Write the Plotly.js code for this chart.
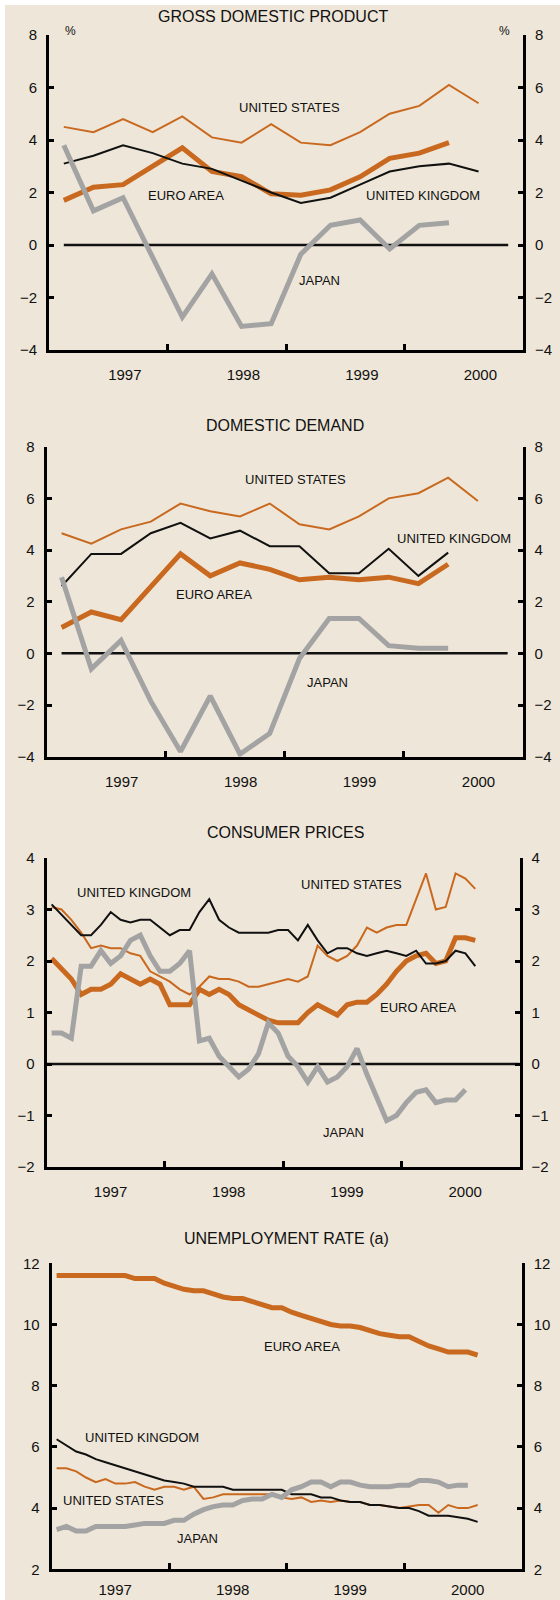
<!DOCTYPE html>
<html><head><meta charset="utf-8">
<script src="https://cdn.plot.ly/plotly-3.0.1.min.js"></script>
<style>html,body{margin:0;padding:0;background:#fff;}#chart{width:560px;height:1600px;}</style>
</head><body><div id="chart"></div>
<script>
// ---- categories ----
const quarters = ['1997Q1','1997Q2','1997Q3','1997Q4','1998Q1','1998Q2','1998Q3','1998Q4',
                  '1999Q1','1999Q2','1999Q3','1999Q4','2000Q1','2000Q2','2000Q3','2000Q4'];
const months = [];
[1997,1998,1999,2000].forEach(y => { for (let m = 1; m <= 12; m++) months.push(y + '-' + String(m).padStart(2,'0')); });
const yearLabels = ['1997','1998','1999','2000'];
const yearBoundaries = [1998, 1999, 2000];

// ---- GDP (quarterly, % yoy) ----
const gdpUS    = [4.5, 4.3, 4.8, 4.3, 4.9, 4.1, 3.9, 4.6, 3.9, 3.8, 4.3, 5.0, 5.3, 6.1, 5.4];
const gdpEuro  = [1.7, 2.2, 2.3, 3.0, 3.7, 2.8, 2.6, 1.95, 1.9, 2.1, 2.6, 3.3, 3.5, 3.9];
const gdpUK    = [3.1, 3.4, 3.8, 3.5, 3.1, 2.9, 2.45, 2.0, 1.6, 1.8, 2.3, 2.8, 3.0, 3.1, 2.8];
const gdpJapan = [3.8, 1.3, 1.8, -0.5, -2.75, -1.1, -3.1, -3.0, -0.35, 0.75, 0.95, -0.15, 0.75, 0.85];

// ---- Domestic demand (quarterly) ----
const ddUS    = [4.65, 4.25, 4.8, 5.1, 5.8, 5.5, 5.3, 5.8, 5.0, 4.8, 5.3, 6.0, 6.2, 6.8, 5.9];
const ddUK    = [2.6, 3.85, 3.85, 4.65, 5.05, 4.45, 4.75, 4.15, 4.15, 3.1, 3.1, 4.05, 3.0, 3.9];
const ddEuro  = [1.0, 1.6, 1.3, 2.6, 3.85, 3.0, 3.5, 3.25, 2.85, 2.95, 2.85, 2.95, 2.7, 3.45];
const ddJapan = [2.95, -0.6, 0.5, -1.85, -3.8, -1.65, -3.9, -3.1, -0.2, 1.35, 1.35, 0.3, 0.2, 0.2];

// ---- Consumer prices (monthly) ----
const cpiUK = [3.1, 2.9, 2.7, 2.5, 2.5, 2.7, 2.95, 2.8, 2.75, 2.8, 2.8, 2.65, 2.5, 2.6, 2.6, 2.95, 3.2, 2.8, 2.65, 2.55,
               2.55, 2.55, 2.55, 2.6, 2.6, 2.4, 2.7, 2.4, 2.15, 2.25, 2.25, 2.15, 2.1, 2.15, 2.2, 2.15, 2.1, 2.2, 1.95, 1.95,
               2.0, 2.2, 2.15, 1.9];
const cpiUS = [3.05, 3.0, 2.8, 2.55, 2.25, 2.3, 2.25, 2.25, 2.15, 2.1, 1.8, 1.7, 1.6, 1.45, 1.35, 1.5, 1.7, 1.65, 1.65, 1.6,
               1.5, 1.5, 1.55, 1.6, 1.65, 1.6, 1.7, 2.3, 2.1, 2.0, 2.1, 2.3, 2.65, 2.55, 2.65, 2.7, 2.7, 3.2, 3.7, 3.0,
               3.05, 3.7, 3.6, 3.4];
const cpiEuro = [2.05, 1.85, 1.65, 1.35, 1.45, 1.45, 1.55, 1.75, 1.65, 1.55, 1.65, 1.55, 1.15, 1.15, 1.15, 1.45, 1.35, 1.45, 1.35, 1.15,
                 1.05, 0.95, 0.85, 0.8, 0.8, 0.8, 1.0, 1.15, 1.05, 0.95, 1.15, 1.2, 1.2, 1.35, 1.55, 1.8, 2.0, 2.1, 2.15, 1.95,
                 2.0, 2.45, 2.45, 2.4];
const cpiJapan = [0.6, 0.6, 0.5, 1.9, 1.9, 2.2, 1.95, 2.1, 2.4, 2.5, 2.1, 1.8, 1.8, 1.95, 2.2, 0.45, 0.5, 0.15, -0.05, -0.25,
                  -0.1, 0.2, 0.8, 0.6, 0.15, -0.05, -0.35, -0.05, -0.35, -0.25, -0.05, 0.3, -0.2, -0.65, -1.1, -1.0, -0.75, -0.55, -0.5, -0.75,
                  -0.7, -0.7, -0.5];

// ---- Unemployment rate (monthly) ----
const unEuro = [11.6, 11.6, 11.6, 11.6, 11.6, 11.6, 11.6, 11.6, 11.5, 11.5, 11.5, 11.35, 11.25, 11.15, 11.1, 11.1, 11.0, 10.9, 10.85, 10.85,
                10.75, 10.65, 10.55, 10.55, 10.4, 10.3, 10.2, 10.1, 10.0, 9.95, 9.95, 9.9, 9.8, 9.7, 9.65, 9.6, 9.6, 9.45, 9.3, 9.2,
                9.1, 9.1, 9.1, 9.0];
const unUK = [6.25, 6.05, 5.85, 5.75, 5.6, 5.5, 5.4, 5.3, 5.2, 5.1, 5.0, 4.9, 4.85, 4.8, 4.7, 4.7, 4.7, 4.7, 4.6, 4.6,
              4.6, 4.6, 4.6, 4.6, 4.45, 4.45, 4.45, 4.35, 4.35, 4.25, 4.2, 4.2, 4.1, 4.1, 4.05, 4.0, 4.0, 3.9, 3.75, 3.75,
              3.75, 3.7, 3.65, 3.55];
const unUS = [5.3, 5.3, 5.2, 5.0, 4.85, 4.95, 4.8, 4.8, 4.85, 4.7, 4.6, 4.7, 4.7, 4.6, 4.7, 4.3, 4.35, 4.45, 4.45, 4.45,
              4.45, 4.45, 4.45, 4.35, 4.3, 4.35, 4.2, 4.25, 4.2, 4.25, 4.2, 4.2, 4.1, 4.1, 4.05, 4.0, 4.05, 4.1, 4.1, 3.85,
              4.1, 4.0, 4.0, 4.1];
const unJapan = [3.3, 3.4, 3.25, 3.25, 3.4, 3.4, 3.4, 3.4, 3.45, 3.5, 3.5, 3.5, 3.6, 3.6, 3.8, 3.95, 4.05, 4.1, 4.1, 4.25,
                 4.3, 4.3, 4.45, 4.35, 4.6, 4.7, 4.85, 4.85, 4.7, 4.85, 4.85, 4.75, 4.7, 4.7, 4.7, 4.75, 4.75, 4.9, 4.9, 4.85,
                 4.7, 4.75, 4.75];

// ---- helpers: period label -> position on a continuous year axis ----
const qx = q => +q.slice(0,4) + (+q.slice(5) - 0.5) / 4;
const mx = m => +m.slice(0,4) + (+m.slice(5) - 0.5) / 12;
const qX = n => quarters.slice(0, n).map(qx);
const mX = n => months.slice(0, n).map(mx);

const ORANGE = '#C8691F', GREY = '#A3A3A3', BLACK = '#111111', BEIGE = '#EEE6D8';
const FONT = 'Liberation Sans, Arial, sans-serif';

function line(x, y, color, width, xa, ya) {
  return {x, y, type: 'scatter', mode: 'lines', xaxis: xa, yaxis: ya, hoverinfo: 'skip',
          line: {color, width, shape: 'linear'}, showlegend: false};
}
// transparent companion trace so that the right-hand axis of a panel is created
function ghost(x, y, xa, ya) {
  return {x, y, type: 'scatter', mode: 'lines', xaxis: xa, yaxis: ya, hoverinfo: 'skip',
          opacity: 0, line: {width: 0}, showlegend: false};
}

const traces = [];
// Panel 1
traces.push(line([qx(quarters[0]), qx(quarters[15])], [0, 0], BLACK, 2.5, 'x', 'y'));
traces.push(line(qX(gdpEuro.length), gdpEuro, ORANGE, 5, 'x', 'y'));
traces.push(line(qX(gdpUS.length), gdpUS, ORANGE, 2, 'x', 'y'));
traces.push(line(qX(gdpUK.length), gdpUK, BLACK, 2, 'x', 'y'));
traces.push(line(qX(gdpJapan.length), gdpJapan, GREY, 5, 'x', 'y'));
traces.push(ghost(qX(gdpUS.length), gdpUS, 'x', 'y5'));
// Panel 2
traces.push(line([qx(quarters[0]), qx(quarters[15])], [0, 0], BLACK, 2.5, 'x2', 'y2'));
traces.push(line(qX(ddEuro.length), ddEuro, ORANGE, 5, 'x2', 'y2'));
traces.push(line(qX(ddUS.length), ddUS, ORANGE, 2, 'x2', 'y2'));
traces.push(line(qX(ddUK.length), ddUK, BLACK, 2, 'x2', 'y2'));
traces.push(line(qX(ddJapan.length), ddJapan, GREY, 5, 'x2', 'y2'));
traces.push(ghost(qX(ddUS.length), ddUS, 'x2', 'y6'));
// Panel 3
traces.push(line([1997, 2001], [0, 0], BLACK, 2.5, 'x3', 'y3'));
traces.push(line(mX(cpiEuro.length), cpiEuro, ORANGE, 5, 'x3', 'y3'));
traces.push(line(mX(cpiUS.length), cpiUS, ORANGE, 2, 'x3', 'y3'));
traces.push(line(mX(cpiUK.length), cpiUK, BLACK, 2, 'x3', 'y3'));
traces.push(line(mX(cpiJapan.length), cpiJapan, GREY, 5, 'x3', 'y3'));
traces.push(ghost(mX(cpiUS.length), cpiUS, 'x3', 'y7'));
// Panel 4
traces.push(line(mX(unEuro.length), unEuro, ORANGE, 5, 'x4', 'y4'));
traces.push(line(mX(unUS.length), unUS, ORANGE, 2, 'x4', 'y4'));
traces.push(line(mX(unUK.length), unUK, BLACK, 2, 'x4', 'y4'));
traces.push(line(mX(unJapan.length), unJapan, GREY, 5, 'x4', 'y4'));
traces.push(ghost(mX(unUS.length), unUS, 'x4', 'y8'));

// ---- layout ----
const W = 560, H = 1600;
const px = v => v / W, py = v => 1 - v / H;

function xAxis(l, r, labelOffset, anchor, standoff) {
  return {
    domain: [px(l), px(r)], range: [1997, 2001], anchor,
    showgrid: false, zeroline: false, showline: true, linecolor: '#000', linewidth: 3,
    tickmode: 'array', tickvals: yearLabels.map(t => +t + labelOffset), ticktext: yearLabels,
    ticks: '', ticklabelstandoff: standoff,
    tickfont: {family: FONT, size: 15, color: '#111'},
    minor: {tickmode: 'array', tickvals: yearBoundaries, ticks: 'inside', ticklen: 6, tickwidth: 3, tickcolor: '#000', showgrid: false},
    fixedrange: true
  };
}
function yAxis(top, bottom, range, dtick, anchor, side, overlay) {
  const a = {
    range, dtick, tick0: range[0], anchor, side,
    showgrid: false, zeroline: false, showline: true, linecolor: '#000', linewidth: 3,
    ticks: 'inside', ticklen: 5, tickwidth: 3, tickcolor: '#000', ticklabelstandoff: 6,
    tickfont: {family: FONT, size: 15, color: '#111'}, fixedrange: true
  };
  if (overlay) a.overlaying = overlay; else a.domain = [py(bottom), py(top)];
  return a;
}

const panels = [
  {l: 49,   r: 523,   top: 35,    bottom: 350,    range: [-4, 8],  dtick: 2, off: 0.64, so: 9},
  {l: 46.7, r: 522.5, top: 446.7, bottom: 756.7,  range: [-4, 8],  dtick: 2, off: 0.63, so: 9},
  {l: 46.7, r: 519.6, top: 858,   bottom: 1167,   range: [-2, 4],  dtick: 1, off: 0.54, so: 9},
  {l: 51.7, r: 521.7, top: 1263.3,bottom: 1569.3, range: [2, 12],  dtick: 2, off: 0.54, so: 5}
];

const layout = {
  width: W, height: H, margin: {l: 0, r: 0, t: 0, b: 0},
  paper_bgcolor: '#ffffff', plot_bgcolor: 'rgba(0,0,0,0)',
  font: {family: FONT, color: '#111'},
  showlegend: false,
  shapes: [{type: 'rect', xref: 'paper', yref: 'paper', x0: px(5), x1: 1, y0: 0, y1: py(5),
            fillcolor: BEIGE, line: {width: 0}, layer: 'below'}],
  annotations: []
};
panels.forEach((p, i) => {
  const n = i + 1, s = n === 1 ? '' : String(n);
  layout['xaxis' + s] = xAxis(p.l, p.r, p.off, 'y' + s, p.so);
  layout['yaxis' + s] = yAxis(p.top, p.bottom, p.range, p.dtick, 'x' + s, 'left');
  layout['yaxis' + (n + 4)] = yAxis(p.top, p.bottom, p.range, p.dtick, 'x' + s, 'right', 'y' + s);
});

const titles = [
  {text: 'GROSS DOMESTIC PRODUCT', x: 273, y: 17},
  {text: 'DOMESTIC DEMAND',        x: 285, y: 425},
  {text: 'CONSUMER PRICES',        x: 285, y: 832},
  {text: 'UNEMPLOYMENT RATE (a)',  x: 286, y: 1238}
];
titles.forEach(t => layout.annotations.push({
  text: t.text, xref: 'paper', yref: 'paper', x: px(t.x), y: py(t.y),
  xanchor: 'center', yanchor: 'middle', showarrow: false,
  font: {family: FONT, size: 16, color: '#111'}
}));

// unit markers beside the top of the first panel's axes (axis-domain fractions)
[[0.046], [0.962]].forEach(([xf]) => layout.annotations.push({
  text: '%', xref: 'x domain', yref: 'y domain', x: xf, y: 1.012,
  xanchor: 'center', yanchor: 'middle', showarrow: false,
  font: {family: FONT, size: 12, color: '#111'}
}));

// series labels (x in years, y in axis units)
const seriesLabels = [
  ['x',  'y',  'UNITED STATES',  1999.03, 5.22],
  ['x',  'y',  'EURO AREA',      1998.16, 1.87],
  ['x',  'y',  'UNITED KINGDOM', 2000.16, 1.87],
  ['x',  'y',  'JAPAN',          1999.28, -1.37],
  ['x2', 'y2', 'UNITED STATES',  1999.09, 6.74],
  ['x2', 'y2', 'UNITED KINGDOM', 2000.42, 4.45],
  ['x2', 'y2', 'EURO AREA',      1998.41, 2.29],
  ['x2', 'y2', 'JAPAN',          1999.36, -1.14],
  ['x3', 'y3', 'UNITED KINGDOM', 1997.74, 3.33],
  ['x3', 'y3', 'UNITED STATES',  1999.58, 3.48],
  ['x3', 'y3', 'EURO AREA',      2000.14, 1.10],
  ['x3', 'y3', 'JAPAN',          1999.51, -1.33],
  ['x4', 'y4', 'EURO AREA',      1999.13, 9.27],
  ['x4', 'y4', 'UNITED KINGDOM', 1997.77, 6.31],
  ['x4', 'y4', 'UNITED STATES',  1997.53, 4.26],
  ['x4', 'y4', 'JAPAN',          1998.24, 3.01]
];
seriesLabels.forEach(([xr, yr, text, x, y]) => layout.annotations.push({
  text, xref: xr, yref: yr, x, y, xanchor: 'center', yanchor: 'middle', showarrow: false,
  font: {family: FONT, size: 13, color: '#111'}
}));

Plotly.newPlot('chart', traces, layout, {staticPlot: true, displayModeBar: false});
</script></body></html>
